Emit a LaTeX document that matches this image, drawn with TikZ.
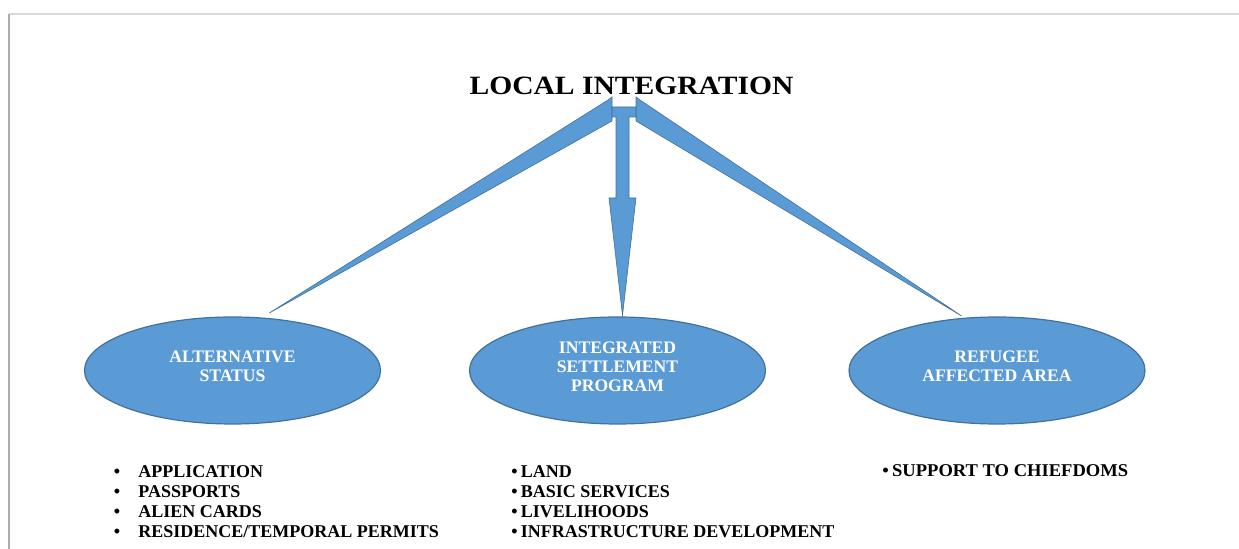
\documentclass[tikz,border=0pt]{standalone}
\usepackage{fontspec}
\setmainfont{Liberation Serif}
\usetikzlibrary{shapes.geometric, positioning}

\definecolor{lblue}{HTML}{5B9BD5}
\definecolor{dblue}{HTML}{41719C}

\tikzset{%
   blob/.style={ellipse, draw=dblue, line width=0.6pt, fill=lblue, minimum width=148pt, minimum height=53.5pt, inner sep=0pt},
   btext/.style={inner sep=0pt, text=white, align=center, font=\bfseries\fontsize{8.8}{9.5}\selectfont},
   wedge/.style={fill=lblue, draw=dblue, line width=0.3pt, line join=miter},
   item/.style={inner sep=0pt, anchor=base west, font=\bfseries\fontsize{9}{10}\selectfont},
   bul/.style={inner sep=0pt, anchor=base, font=\bfseries\fontsize{9}{10}\selectfont},
}
\newcommand{\dotitem}{\textbullet\hspace{1.6pt}}

\begin{document}
\begin{tikzpicture}[x=0.5pt, y=-0.5pt]
   \useasboundingbox (0,0) rectangle (1239,549);
   % page edge
   \draw[gray!30, line width=1pt] (9,14) -- (1239,14);
   \draw[gray!65, line width=1.3pt] (9,14) -- (9,549);

   \node[inner sep=0pt, anchor=base, xscale=1.12, transform shape,
      font=\bfseries\fontsize{13.2}{15}\selectfont] (li) at (631.5,95) {LOCAL INTEGRATION};

   \node[blob] (alt) at (232.5,370.5) {};
   \node[blob] (isp) at (617.5,370.5) {};
   \node[blob] (raa) at (997,370.5) {};
   \node[btext] (alt-t) at ([yshift=2pt]alt.center) {ALTERNATIVE\\STATUS};
   \node[btext] (isp-t) at ([yshift=2pt]isp.center) {INTEGRATED\\SETTLEMENT\\PROGRAM};
   \node[btext] (raa-t) at ([yshift=2pt]raa.center) {REFUGEE\\AFFECTED AREA};

   % the three arrows out of the title
   \filldraw[wedge] (608,100) -- (612,97) -- (612,121) -- ([yshift=2.5pt]alt.55) -- cycle;
   \filldraw[wedge] (640,100) -- (636,97) -- (636,121) -- ([yshift=1pt]raa.124) -- cycle;
   \filldraw[wedge] (612,107) -- (636,107) -- (636,117) -- (629,117) -- (629,198) -- (636,198)
      -- ([xshift=2.5pt, yshift=0.5pt]isp.north) -- (609,198) -- (616,198) -- (616,117) -- (612,117) -- cycle;

   % lists under the ellipses
   \foreach \t [count=\i] in {APPLICATION, PASSPORTS, ALIEN CARDS, RESIDENCE/TEMPORAL PERMITS} {
      \node[bul] (ab-\i) at (117,{478+19.7*(\i-1)}) {\textbullet};
      \node[item] (a-\i) at (138,{478+19.7*(\i-1)}) {\t};
   }
   \foreach \t [count=\i] in {LAND, BASIC SERVICES, LIVELIHOODS, INFRASTRUCTURE DEVELOPMENT}
      \node[item] (s-\i) at (511,{478+19.7*(\i-1)}) {\dotitem\t};
   \node[item, xscale=1.03, transform shape] (r-1) at (882,477) {\dotitem SUPPORT TO CHIEFDOMS};
\end{tikzpicture}
\end{document}
